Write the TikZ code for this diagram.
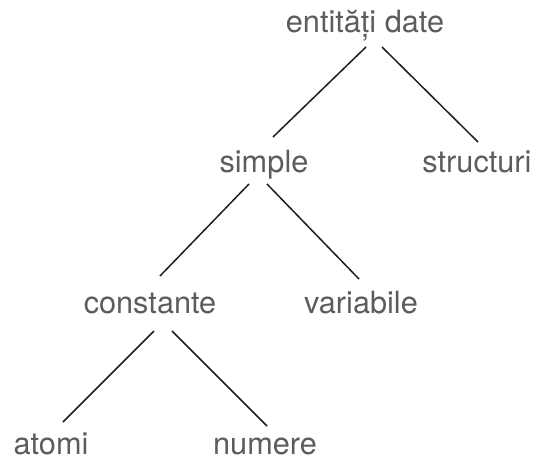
\documentclass[tikz,border=0pt]{standalone}
\usepackage{fontspec}
\setmainfont{TeX Gyre Heros}
\usepackage{xcolor}
\usetikzlibrary{calc}
\definecolor{labelgray}{HTML}{5C5C5C}
\definecolor{linegray}{HTML}{1E1E1E}
\tikzset{
	lbl/.style={anchor=base,inner sep=0pt,text=labelgray,font=\fontsize{30.7}{36}\selectfont},
	edge/.style={draw=linegray,line width=1.5pt}
}

\begin{document}
\begin{tikzpicture}[x=1pt,y=-1pt]
			\useasboundingbox (0,0) rectangle (536,463);
			\node[lbl] (root) at (365,32){entități date};
			\node[lbl] (simple) at (264,172){simple};
			\node[lbl] (struct) at (477,172){structuri};
			\node[lbl] (const) at (150,313){constante};
			\node[lbl] (var) at (361,313){variabile};
			\node[lbl] (atomi) at (51,454){atomi};
			\node[lbl] (numere) at (265,454){numere};
			\draw[edge] ($(root.base)+(1,15)$) -- ($(simple.base)+(9,-35)$);
			\draw[edge] ($(root.base)+(17,15)$) -- ($(struct.base)+(1,-30)$);
			\draw[edge] ($(simple.base)+(-15,12)$) -- ($(const.base)+(10,-37)$);
			\draw[edge] ($(simple.base)+(3,12)$) -- ($(var.base)+(-2,-34)$);
			\draw[edge] ($(const.base)+(4,18)$) -- ($(atomi.base)+(12,-32)$);
			\draw[edge] ($(const.base)+(22,18)$) -- ($(numere.base)+(2,-28)$);
		\end{tikzpicture}
\end{document}
